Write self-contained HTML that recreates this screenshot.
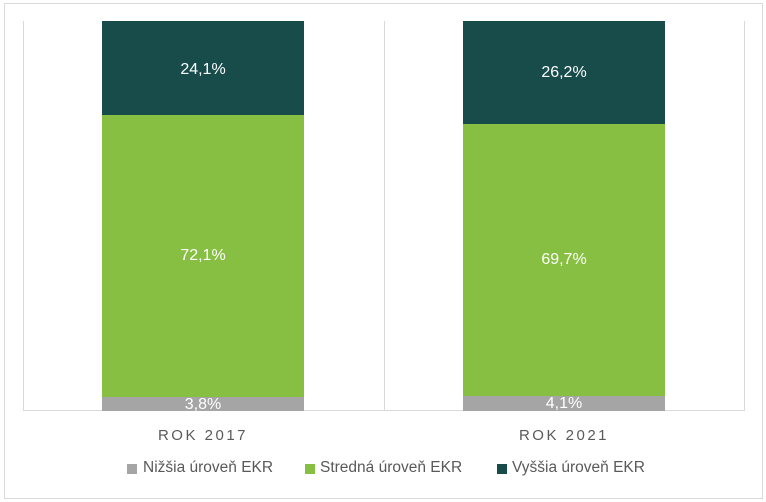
<!DOCTYPE html>
<html><head><meta charset="utf-8"><style>
body{margin:0;width:766px;height:502px;background:#fff;font-family:"Liberation Sans",sans-serif;position:relative;overflow:hidden}
div{position:absolute}
.l{color:#fff;font-size:16px;text-align:center}
.bar{width:202px}
.lg{font-size:15.5px;color:#595959;top:459px}
.sq{width:10px;height:10px;top:464px}
</style></head><body>
<div style="left:4px;top:3px;width:757px;height:494px;border:1px solid #d9d9d9"></div>
<div style="left:23px;top:21px;width:1px;height:390px;background:#d9d9d9"></div>
<div style="left:384px;top:21px;width:1px;height:390px;background:#d9d9d9"></div>
<div style="left:744px;top:21px;width:1px;height:390px;background:#d9d9d9"></div>
<div style="left:23px;top:410px;width:722px;height:1px;background:#d9d9d9"></div>

<div class="bar" style="left:102px;top:21px;height:94px;background:#174c4b"></div>
<div class="bar" style="left:102px;top:115px;height:282px;background:#86bf41"></div>
<div class="bar" style="left:102px;top:397px;height:14px;background:#a5a5a5"></div>
<div class="l" style="left:102px;width:202px;top:61px">24,1%</div>
<div class="l" style="left:102px;width:202px;top:247px">72,1%</div>
<div class="l" style="left:102px;width:202px;top:396px">3,8%</div>

<div class="bar" style="left:463px;top:21px;height:103px;background:#174c4b"></div>
<div class="bar" style="left:463px;top:124px;height:272px;background:#86bf41"></div>
<div class="bar" style="left:463px;top:396px;height:15px;background:#a5a5a5"></div>
<div class="l" style="left:463px;width:202px;top:64px">26,2%</div>
<div class="l" style="left:463px;width:202px;top:251px">69,7%</div>
<div class="l" style="left:463px;width:202px;top:395px">4,1%</div>

<div style="left:102px;width:202px;top:427px;text-align:center;font-size:15px;color:#595959;letter-spacing:2.5px">ROK 2017</div>
<div style="left:463px;width:202px;top:427px;text-align:center;font-size:15px;color:#595959;letter-spacing:2.5px">ROK 2021</div>

<div class="sq" style="left:127px;background:#a5a5a5"></div>
<div class="lg" style="left:143px">Nižšia úroveň EKR</div>
<div class="sq" style="left:305px;background:#86bf41"></div>
<div class="lg" style="left:320px">Stredná úroveň EKR</div>
<div class="sq" style="left:497px;background:#174c4b"></div>
<div class="lg" style="left:512px">Vyššia úroveň EKR</div>
</body></html>
